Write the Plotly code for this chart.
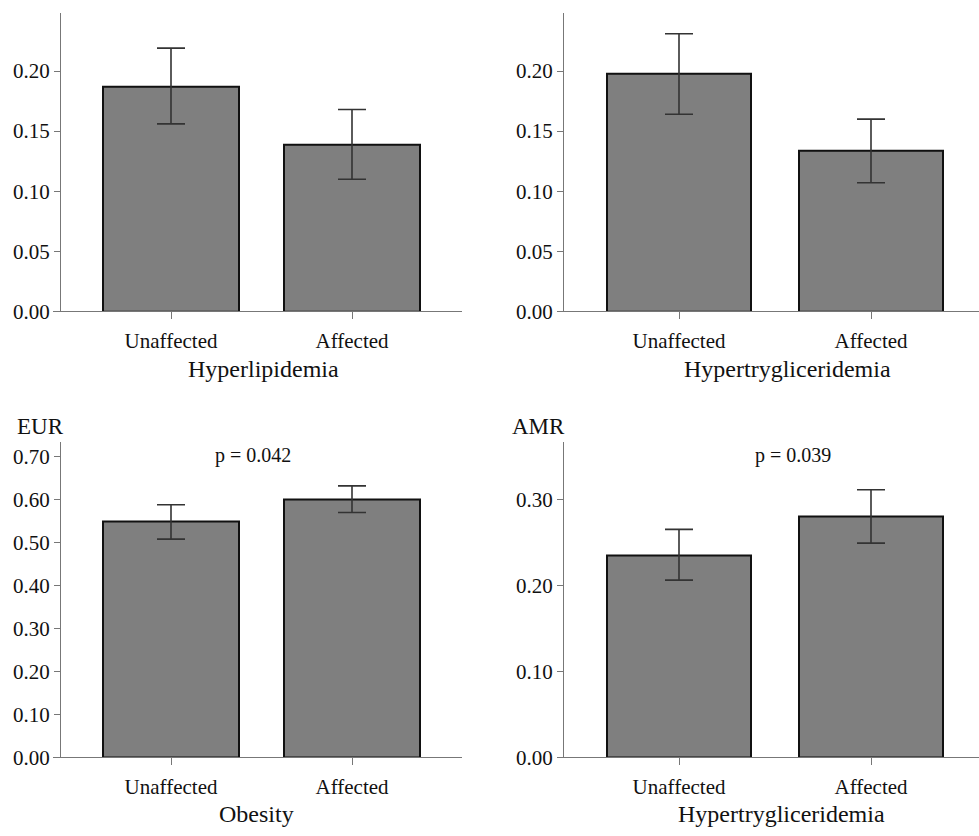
import plotly.graph_objects as go

categories = ["Unaffected", "Affected"]

# Panel A: Hyperlipidemia
hl_vals = [0.187, 0.139]
hl_hi = [0.219, 0.168]
hl_lo = [0.156, 0.110]
# Panel B: Hypertrygliceridemia
ht_vals = [0.198, 0.134]
ht_hi = [0.231, 0.160]
ht_lo = [0.164, 0.107]
# Panel C: EUR Obesity
ob_vals = [0.548, 0.601]
ob_hi = [0.588, 0.632]
ob_lo = [0.508, 0.570]
# Panel D: AMR Hypertrygliceridemia
am_vals = [0.235, 0.280]
am_hi = [0.265, 0.311]
am_lo = [0.206, 0.249]

ticks_top = [0.00, 0.05, 0.10, 0.15, 0.20]
ticks_bl = [0.00, 0.10, 0.20, 0.30, 0.40, 0.50, 0.60, 0.70]
ticks_br = [0.00, 0.10, 0.20, 0.30]

FONT = "Liberation Serif"
W, H = 979, 836

panels = [
    (hl_vals, hl_hi, hl_lo, "x", "y"),
    (ht_vals, ht_hi, ht_lo, "x2", "y2"),
    (ob_vals, ob_hi, ob_lo, "x3", "y3"),
    (am_vals, am_hi, am_lo, "x4", "y4"),
]

fig = go.Figure()
for vals, hi, lo, xa, ya in panels:
    fig.add_trace(go.Bar(
        x=[0, 1], y=vals, width=0.75,
        marker=dict(color="#7f7f7f", line=dict(color="#111111", width=2)),
        error_y=dict(type="data", symmetric=False,
                     array=[h - v for h, v in zip(hi, vals)],
                     arrayminus=[v - l for l, v in zip(lo, vals)],
                     color="#333333", thickness=1.6, width=14),
        xaxis=xa, yaxis=ya, showlegend=False, hoverinfo="skip",
    ))

def xax(domain, rng, anchor):
    return dict(domain=domain, range=rng, anchor=anchor, tickmode="array",
                tickvals=[0, 1], ticktext=categories, showline=True,
                linecolor="#777777", linewidth=1, ticks="outside", ticklen=7,
                tickcolor="#777777", showgrid=False, zeroline=False,
                ticklabelstandoff=3,
                tickfont=dict(family=FONT, size=21, color="#111111"))

def yax(domain, rng, pos, tickvals):
    return dict(domain=domain, range=rng, anchor="free", position=pos,
                tickmode="array", tickvals=tickvals,
                ticktext=["%.2f" % t for t in tickvals], showline=True,
                linecolor="#777777", linewidth=1, ticks="outside", ticklen=6,
                tickcolor="#777777", showgrid=False, zeroline=False,
                tickfont=dict(family=FONT, size=21, color="#111111"))

xl = [53 / W, 462 / W]
xr = [557 / W, 1.0]
yt = [1 - 316 / H, 1 - 13 / H]
yb = [1 - 768.5 / H, 1 - 448 / H]
rl = [(53 - 171) / 181, (462 - 171) / 181]
rr = [(557 - 679) / 192, (979 - 679) / 192]

fig.update_layout(
    width=W, height=H, margin=dict(l=0, r=0, t=0, b=0),
    plot_bgcolor="white", paper_bgcolor="white",
    font=dict(family=FONT, color="#111111"),
    xaxis=xax(xl, rl, "y"), yaxis=yax(yt, [0, 0.2484], 60 / W, ticks_top),
    xaxis2=xax(xr, rr, "y2"), yaxis2=yax(yt, [0, 0.2484], 563 / W, ticks_top),
    xaxis3=xax(xl, rl, "y3"), yaxis3=yax(yb, [0, 0.735], 60 / W, ticks_bl),
    xaxis4=xax(xr, rr, "y4"), yaxis4=yax(yb, [0, 0.367], 563 / W, ticks_br),
    bargap=0,
)

def ann(text, x, y, size):
    fig.add_annotation(text=text, x=x / W, y=1 - y / H, xref="paper", yref="paper",
                       showarrow=False, xanchor="center", yanchor="middle",
                       font=dict(family=FONT, size=size, color="#111111"))

ann("Hyperlipidemia", 263, 374, 24)
ann("Hypertrygliceridemia", 787, 374, 24)
ann("Obesity", 256, 826, 24)
ann("Hypertrygliceridemia", 781, 826, 24)
ann("EUR", 40, 433, 23)
ann("AMR", 538, 433, 23)
ann("p = 0.042", 253, 462, 20)
ann("p = 0.039", 793, 462, 20)

fig.write_html("out.html", config={"displayModeBar": False},
               post_script="document.body.style.margin='0';document.body.style.overflow='hidden';")
